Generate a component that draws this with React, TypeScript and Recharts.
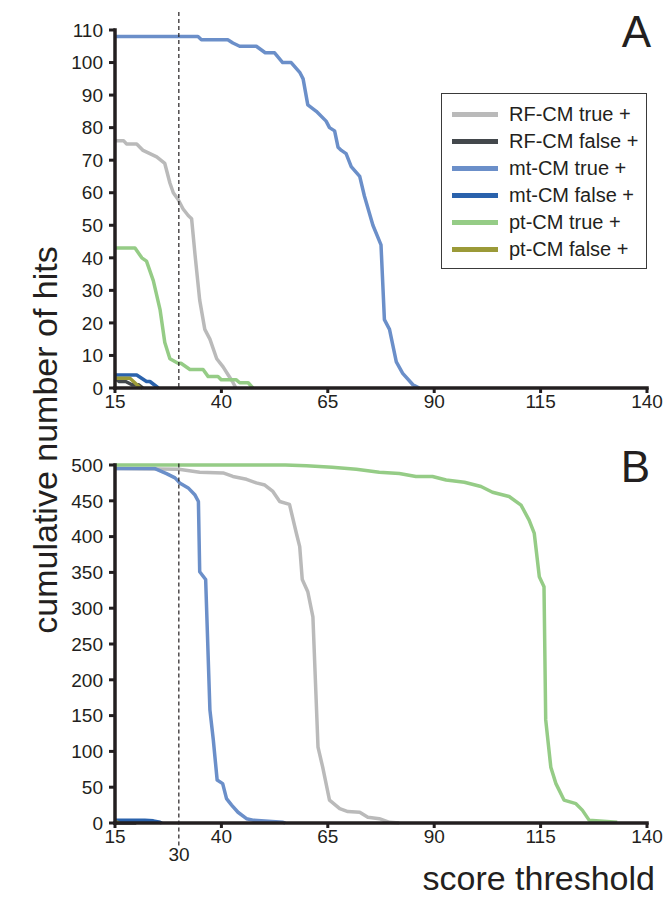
import { Line, LineChart, ReferenceLine, XAxis, YAxis } from 'recharts';

type Pt = [number, number];

const xTicks = [15, 40, 65, 90, 115, 140];
const yTicksA = [0, 10, 20, 30, 40, 50, 60, 70, 80, 90, 100, 110];
const yTicksB = [0, 50, 100, 150, 200, 250, 300, 350, 400, 450, 500];

// panel A: score threshold vs cumulative hits
const rfTrueA: Pt[] = [
  [15, 76], [17, 76], [17.7, 75], [20.1, 75], [21.6, 73], [23.2, 72], [24.8, 71], [26.7, 69],
  [27.9, 63], [28.7, 60], [29.8, 58], [31, 55], [32.2, 53], [33, 52], [33.8, 41], [34.9, 27],
  [36.1, 18], [37.3, 15], [38.9, 9], [40.4, 6.5], [41.6, 4], [42.6, 2], [43.4, 0],
];
const rfFalseA: Pt[] = [[15, 3], [16, 2], [17.5, 2], [19, 1], [20.5, 1], [21.5, 0]];
const mtTrueA: Pt[] = [
  [15, 108], [34.5, 108], [35.3, 107], [41.5, 107], [42.7, 106], [44.3, 105], [48.2, 105],
  [50.3, 103], [52.5, 103], [54.4, 100], [56.4, 100], [58.4, 97], [59.2, 95], [60.3, 87],
  [62.3, 85], [64.6, 82], [65.4, 80], [66.6, 79], [67.4, 74], [68.2, 73], [69.3, 72], [70.5, 68],
  [72.5, 65], [73.6, 59], [75.6, 50], [77.5, 44], [78.3, 21], [79.5, 18], [81.1, 8], [82.6, 4.5],
  [85, 1], [86.5, 0],
];
const mtFalseA: Pt[] = [[15, 4], [20.1, 4], [22.4, 2], [23.2, 2], [25.2, 0]];
const ptTrueA: Pt[] = [
  [15, 43], [19.7, 43], [21.3, 40], [22.4, 39], [24, 33], [25.6, 24], [26.7, 14], [27.9, 9],
  [29.8, 7.6], [30.5, 7.6], [32.6, 5.7], [35.7, 5.7], [36.9, 3.5], [39.2, 3.5], [40, 2.5],
  [43.5, 2.5], [44.3, 1.6], [46.3, 1.6], [47.4, 0],
];
const ptFalseA: Pt[] = [[15, 3], [18.5, 3], [21, 0]];

// panel B
const rfTrueB: Pt[] = [
  [15, 495], [30, 494], [34.9, 490], [40.4, 489], [42.7, 484], [45.9, 480], [48.2, 475],
  [50.2, 472], [52.1, 463], [53.7, 449], [56, 445], [57.6, 405], [58.4, 386], [59, 340],
  [60.3, 323], [61.5, 288], [62.7, 106], [63.8, 78], [65.4, 32], [67.8, 20], [69.7, 16],
  [72.5, 15], [74.4, 8], [77.1, 6], [79.5, 1], [81.8, 0],
];
const rfFalseB: Pt[] = [[15, 0], [20, 0]];
const mtTrueB: Pt[] = [
  [15, 495], [24.4, 495], [27.1, 488], [29.1, 482], [30.2, 475], [32.2, 468], [33.8, 458],
  [34.6, 449], [34.9, 351], [36.3, 340], [37.3, 158], [38.1, 116], [39, 60], [40.3, 55],
  [41.2, 34], [42.4, 25], [43.9, 15], [45.9, 6], [47.4, 4], [54.5, 1], [55, 0],
];
const mtFalseB: Pt[] = [[15, 4], [22, 4], [24, 3], [25.6, 1], [26, 0]];
const ptTrueB: Pt[] = [
  [15, 500], [55, 500], [60, 499], [66, 497], [71.7, 494], [77.1, 490], [81.8, 488], [85.7, 484],
  [89.6, 484], [92.8, 479], [97.1, 476], [101, 470], [103.7, 462], [107.6, 456], [110.4, 444],
  [112.3, 423], [113.5, 405], [114.7, 344], [115.8, 330], [116.2, 144], [117.4, 78], [118.6, 55],
  [120.5, 32], [123.3, 27], [124.8, 18], [126.4, 4], [133, 1],
];
const ptFalseB: Pt[] = [[15, 2], [16, 0]];

const names = ['RF-CM true +', 'RF-CM false +', 'mt-CM true +', 'mt-CM false +', 'pt-CM true +', 'pt-CM false +'];
const colors = ['#bababa', '#43484c', '#6b8fc9', '#2a62ac', '#95cc86', '#9b9a38'];

const FONT = "'Liberation Sans', Arial, Helvetica, sans-serif";
const INK = '#231f20';

const toRows = (pts: Pt[]) => pts.map(([x, y]) => ({ x, y }));

function Panel({
  series,
  yMax,
  yTicks,
  dashTop,
  dashBottom,
}: {
  series: Pt[][];
  yMax: number;
  yTicks: number[];
  dashTop: number;
  dashBottom: number;
}) {
  const tick = { fontSize: 19, fill: INK, fontFamily: FONT };
  return (
    <LineChart width={669} height={420} margin={{ top: 30, right: 22, bottom: 2, left: 55 }}>
      <XAxis
        dataKey="x"
        type="number"
        domain={[15, 140]}
        ticks={xTicks}
        interval={0}
        height={30}
        tick={tick}
        tickSize={5}
        tickMargin={2}
        axisLine={{ stroke: INK, strokeWidth: 3.5, strokeLinecap: 'square' }}
        tickLine={{ stroke: INK, strokeWidth: 3 }}
      />
      <YAxis
        type="number"
        domain={[0, yMax]}
        ticks={yTicks}
        interval={0}
        width={60}
        tick={tick}
        tickSize={6}
        tickMargin={6}
        axisLine={{ stroke: INK, strokeWidth: 3.5, strokeLinecap: 'square' }}
        tickLine={{ stroke: INK, strokeWidth: 3 }}
      />
      {series.map((pts, i) => (
        <Line
          key={names[i]}
          data={toRows(pts)}
          dataKey="y"
          type="linear"
          stroke={colors[i]}
          strokeWidth={3.5}
          strokeLinejoin="round"
          dot={false}
          activeDot={false}
          isAnimationActive={false}
        />
      ))}
      <ReferenceLine
        segment={[{ x: 30, y: dashTop }, { x: 30, y: dashBottom }]}
        ifOverflow="visible"
        stroke={INK}
        strokeWidth={1.2}
        strokeDasharray="4 3"
      />
    </LineChart>
  );
}

export default function App() {
  return (
    <div style={{ position: 'absolute', left: 0, top: 0, width: 669, height: 897, background: '#fff', fontFamily: FONT }}>
      <div style={{ position: 'absolute', left: 0, top: 0 }}>
        <Panel
          series={[rfTrueA, rfFalseA, mtTrueA, mtFalseA, ptTrueA, ptFalseA]}
          yMax={110}
          yTicks={yTicksA}
          dashTop={115.5}
          dashBottom={0}
        />
      </div>
      <div style={{ position: 'absolute', left: 0, top: 435 }}>
        <Panel
          series={[rfTrueB, rfFalseB, mtTrueB, mtFalseB, ptTrueB, ptFalseB]}
          yMax={500}
          yTicks={yTicksB}
          dashTop={502}
          dashBottom={-34}
        />
      </div>

      {/* legend for panel A */}
      <div
        style={{
          position: 'absolute',
          left: 441,
          top: 93,
          width: 206,
          height: 176,
          border: '1.5px solid #3a3a3a',
          boxSizing: 'border-box',
          background: '#fff',
        }}
      >
        {names.map((n, i) => (
          <div
            key={n}
            style={{ position: 'absolute', left: 10, top: 7 + i * 27, height: 26, display: 'flex', alignItems: 'center' }}
          >
            <div style={{ width: 46, height: 5, background: colors[i] }} />
            <span style={{ marginLeft: 11, fontSize: 20, color: INK, whiteSpace: 'nowrap' }}>{n}</span>
          </div>
        ))}
      </div>

      <svg width={669} height={897} style={{ position: 'absolute', left: 0, top: 0, pointerEvents: 'none' }}>
        <text x={651} y={47} textAnchor="end" fontSize={44} fill={INK} fontFamily={FONT}>A</text>
        <text x={650} y={482} textAnchor="end" fontSize={44} fill={INK} fontFamily={FONT}>B</text>
        <text x={179} y={861} textAnchor="middle" fontSize={19} fill={INK} fontFamily={FONT}>30</text>
        <text x={655} y={890} textAnchor="end" fontSize={34} fill={INK} fontFamily={FONT}>score threshold</text>
        <text
          x={57}
          y={440}
          transform="rotate(-90 57 440)"
          textAnchor="middle"
          fontSize={34}
          fill={INK}
          fontFamily={FONT}
        >
          cumulative number of hits
        </text>
      </svg>
    </div>
  );
}
